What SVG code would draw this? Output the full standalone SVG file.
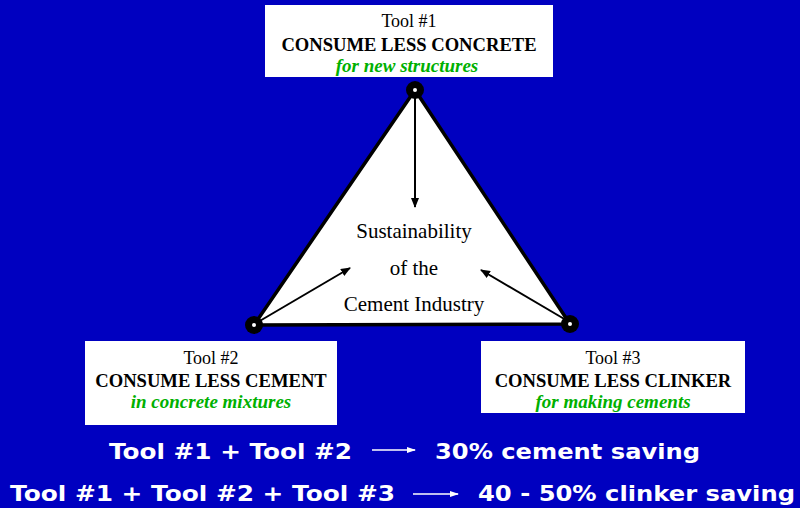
<svg xmlns="http://www.w3.org/2000/svg" width="800" height="508" viewBox="0 0 800 508">
  <style>
    .box { fill: #ffffff; }
    .t1 { font-family: "Liberation Serif", "Times New Roman", serif; font-size: 18px; fill: #000; text-anchor: middle; }
    .t2 { font-family: "Liberation Serif", "Times New Roman", serif; font-size: 18.6px; font-weight: bold; fill: #000; text-anchor: middle; }
    .t3 { font-family: "Liberation Serif", "Times New Roman", serif; font-size: 19px; font-weight: bold; font-style: italic; fill: #00b000; text-anchor: middle; }
    .ctr { font-family: "Liberation Serif", "Times New Roman", serif; font-size: 21px; fill: #000; text-anchor: middle; }
    .sum { font-family: "DejaVu Sans", Verdana, sans-serif; font-size: 22px; font-weight: bold; fill: #fff; }
    .edge { stroke: #000; stroke-width: 2; fill: none; }
    .warr { stroke: #fff; stroke-width: 1.5; fill: none; }
  </style>
  <defs>
    <marker id="ah" markerWidth="10" markerHeight="8" refX="9" refY="4" orient="auto" markerUnits="userSpaceOnUse">
      <path d="M0,0 L10,4 L0,8 Z" fill="#000"/>
    </marker>
    <marker id="wh" markerWidth="9" markerHeight="6" refX="8" refY="3" orient="auto" markerUnits="userSpaceOnUse">
      <path d="M0,0 L9,3 L0,6 Z" fill="#fff"/>
    </marker>
  </defs>

  <rect width="800" height="508" fill="#0000c0"/>

  <!-- central triangle -->
  <g id="triangle">
    <polygon points="415,90 254,325 570,324" fill="#ffffff" stroke="#000" stroke-width="3.5" stroke-linejoin="round"/>
    <text class="ctr" x="414" y="238">Sustainability</text>
    <text class="ctr" x="414" y="275">of the</text>
    <text class="ctr" x="414" y="311">Cement Industry</text>
  </g>

  <!-- arrows from each vertex toward the centre -->
  <g id="connectors">
    <line class="edge" x1="415" y1="95" x2="415" y2="207" marker-end="url(#ah)"/>
    <line class="edge" x1="258" y1="322" x2="350" y2="268" marker-end="url(#ah)"/>
    <line class="edge" x1="566" y1="320" x2="481" y2="270" marker-end="url(#ah)"/>
  </g>

  <!-- vertex pins -->
  <g id="pins">
    <circle cx="415" cy="90" r="9" fill="#000"/>
    <circle cx="415" cy="90" r="2" fill="#fff"/>
    <circle cx="254" cy="325" r="9" fill="#000"/>
    <circle cx="254" cy="325" r="2" fill="#fff"/>
    <circle cx="570" cy="324" r="9" fill="#000"/>
    <circle cx="570" cy="324" r="2" fill="#fff"/>
  </g>

  <g id="tool1">
    <rect class="box" x="265" y="5" width="288" height="72"/>
    <text class="t1" x="409" y="27">Tool #1</text>
    <text class="t2" x="409" y="51">CONSUME LESS CONCRETE</text>
    <text class="t3" x="407" y="72">for new structures</text>
  </g>

  <g id="tool2">
    <rect class="box" x="85" y="341" width="252" height="84"/>
    <text class="t1" x="211" y="364">Tool #2</text>
    <text class="t2" x="211" y="387">CONSUME LESS CEMENT</text>
    <text class="t3" x="211" y="408">in concrete mixtures</text>
  </g>

  <g id="tool3">
    <rect class="box" x="481" y="341" width="264" height="72"/>
    <text class="t1" x="613" y="364">Tool #3</text>
    <text class="t2" x="613" y="387">CONSUME LESS CLINKER</text>
    <text class="t3" x="613" y="408">for making cements</text>
  </g>

  <!-- summary lines -->
  <g id="summary">
    <text class="sum" x="109" y="459" textLength="243" lengthAdjust="spacingAndGlyphs">Tool #1 + Tool #2</text>
    <line class="warr" x1="372" y1="450" x2="415" y2="450" marker-end="url(#wh)"/>
    <text class="sum" x="435" y="459" textLength="265" lengthAdjust="spacingAndGlyphs">30% cement saving</text>
    <text class="sum" x="10" y="501" textLength="385" lengthAdjust="spacingAndGlyphs">Tool #1 + Tool #2 + Tool #3</text>
    <line class="warr" x1="413" y1="494" x2="458" y2="494" marker-end="url(#wh)"/>
    <text class="sum" x="478" y="501" textLength="317" lengthAdjust="spacingAndGlyphs">40 - 50% clinker saving</text>
  </g>
</svg>
